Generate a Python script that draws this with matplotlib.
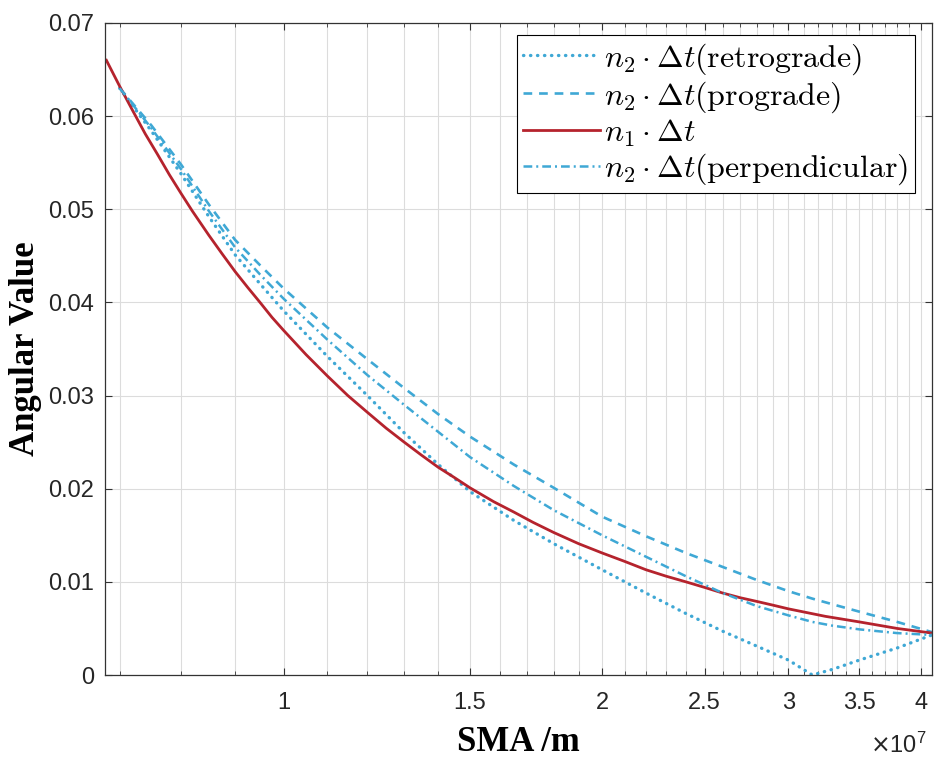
import numpy as np
import matplotlib
matplotlib.use('Agg')
import matplotlib.pyplot as plt
from matplotlib.ticker import FixedLocator, NullFormatter
from matplotlib.font_manager import FontProperties

plt.rcParams['font.family'] = 'Liberation Sans'

# SMA in 1e7 m
sma_n1 = np.array([0.68, 0.70, 0.72, 0.74, 0.76, 0.78, 0.80, 0.82, 0.85, 0.875,
                   0.90, 0.925, 0.95, 0.975, 1.00, 1.05, 1.10, 1.15, 1.20, 1.25,
                   1.30, 1.35, 1.40, 1.45, 1.50, 1.58, 1.65, 1.72, 1.80, 1.90,
                   2.00, 2.10, 2.20, 2.30, 2.40, 2.50, 2.60, 2.70, 2.80, 2.90,
                   3.00, 3.25, 3.50, 3.80, 4.10])
n1_dt = np.array([0.0660, 0.0632, 0.0606, 0.0581, 0.0559, 0.0537, 0.0517, 0.0498, 0.0472, 0.0452,
                  0.0433, 0.0416, 0.0400, 0.0384, 0.0370, 0.0344, 0.0321, 0.0300, 0.0282, 0.0265,
                  0.0250, 0.0236, 0.0223, 0.0212, 0.0201, 0.0186, 0.0175, 0.0164, 0.0153, 0.0141,
                  0.0131, 0.0122, 0.0113, 0.0106, 0.0100, 0.0094, 0.0088, 0.0083, 0.0079, 0.0075,
                  0.0071, 0.0063, 0.0057, 0.0050, 0.0045])

sma_n2 = np.array([0.70, 0.75, 0.80, 0.85, 0.90, 0.95, 1.00, 1.10, 1.20, 1.30, 1.40, 1.50, 1.65,
                   1.80, 2.00, 2.20, 2.40, 2.60, 2.80, 3.00, 3.16, 3.30, 3.50, 3.80, 4.10])
n2_retro = np.array([0.0630, 0.0584, 0.0538, 0.0492, 0.0451, 0.0420, 0.0391, 0.0342, 0.0300, 0.0260,
                     0.0226, 0.0197, 0.0166, 0.0141, 0.0113, 0.0088, 0.0066, 0.0047, 0.0031, 0.0016,
                     0.0000, 0.0006, 0.0016, 0.0029, 0.0043])
n2_pro = np.array([0.0630, 0.0590, 0.0548, 0.0505, 0.0467, 0.0440, 0.0415, 0.0373, 0.0339, 0.0308,
                   0.0280, 0.0256, 0.0226, 0.0201, 0.0170, 0.0149, 0.0131, 0.0116, 0.0102, 0.0090,
                   0.0082, 0.0076, 0.0068, 0.0057, 0.0046])
n2_perp = np.array([0.0630, 0.0587, 0.0543, 0.0498, 0.0459, 0.0430, 0.0404, 0.0360, 0.0322, 0.0290,
                    0.0261, 0.0234, 0.0203, 0.0177, 0.0150, 0.0127, 0.0106, 0.0088, 0.0074, 0.0064,
                    0.0057, 0.0053, 0.0049, 0.0045, 0.0043])

x_major = [1, 1.5, 2, 2.5, 3, 3.5, 4]
x_labels = ['1', '1.5', '2', '2.5', '3', '3.5', '4']
y_ticks = [0, 0.01, 0.02, 0.03, 0.04, 0.05, 0.06, 0.07]
y_labels = ['0', '0.01', '0.02', '0.03', '0.04', '0.05', '0.06', '0.07']

cyan = '#3FA8D5'
red = '#B5232D'

fig = plt.figure(figsize=(9.47, 7.61), dpi=100)
ax = fig.add_axes([0.1109, 0.1130, 0.8733, 0.8568])

ax.plot(sma_n2 * 1e7, n2_retro, color=cyan, lw=2.4, ls=(0, (0.1, 2.0)), dash_capstyle='round',
        label=r'$n_2\cdot\Delta t(\mathrm{retrograde})$')
ax.plot(sma_n2 * 1e7, n2_pro, color=cyan, lw=1.9, ls=(0, (3.3, 2.6)),
        label=r'$n_2\cdot\Delta t(\mathrm{prograde})$')
ax.plot(sma_n1 * 1e7, n1_dt, color=red, lw=2.0, ls='-',
        label=r'$n_1\cdot\Delta t$')
ax.plot(sma_n2 * 1e7, n2_perp, color=cyan, lw=1.8, ls=(0, (3.5, 1.6, 0.8, 1.6)),
        label=r'$n_2\cdot\Delta t(\mathrm{perpendicular})$')

ax.set_xscale('log')
ax.set_xlim(0.678e7, 4.1e7)
ax.set_ylim(0, 0.07)

ax.xaxis.set_major_locator(FixedLocator(np.array(x_major) * 1e7))
ax.set_xticklabels(x_labels)
ax.xaxis.set_minor_locator(FixedLocator(np.arange(7, 41) / 10 * 1e7))
ax.xaxis.set_minor_formatter(NullFormatter())
ax.set_yticks(y_ticks)
ax.set_yticklabels(y_labels)

ax.set_axisbelow(True)
ax.grid(True, which='both', axis='x', color='#dcdcdc', lw=0.8)
ax.grid(True, which='major', axis='y', color='#dcdcdc', lw=0.8)

ax.tick_params(which='both', direction='in', top=True, right=True, color='#333333',
               labelcolor='#262626', labelsize=17)
ax.tick_params(which='major', length=5, width=0.8)
ax.tick_params(which='minor', length=3, width=0.6)
ax.tick_params(axis='x', pad=12)
ax.tick_params(axis='y', pad=8)
for sp in ax.spines.values():
    sp.set_color('#333333')
    sp.set_linewidth(0.9)

ax.set_xlabel('SMA /m', fontfamily='Liberation Serif', fontweight='bold', fontsize=25, labelpad=9)
ax.set_ylabel('Angular Value', fontfamily='Liberation Serif', fontweight='bold', fontsize=25, labelpad=4)

fig.text(927 / 947, 1 - 745 / 761, r'$\times\mathregular{10^7}$', ha='right', va='center',
         fontsize=17, color='#262626')

leg = ax.legend(loc='upper right', bbox_to_anchor=(0.9794, 0.9816), borderaxespad=0,
                prop=FontProperties(size=23, math_fontfamily='cm'), fancybox=False,
                framealpha=1, edgecolor='black', borderpad=0.2, labelspacing=0.08,
                handlelength=2.4, handletextpad=0.15)
leg.get_frame().set_linewidth(0.8)

fig.savefig('out.png', dpi=100)
